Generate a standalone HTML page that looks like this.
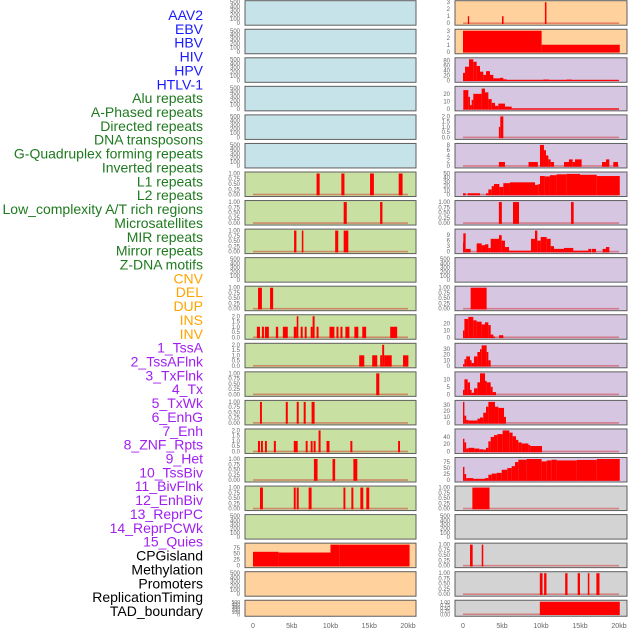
<!DOCTYPE html>
<html><head><meta charset="utf-8">
<style>
html,body{margin:0;padding:0;background:#fff;}
svg{display:block;font-family:"Liberation Sans",sans-serif;}
</style></head>
<body>
<svg id="chart" width="630" height="630" viewBox="0 0 630 630" xmlns="http://www.w3.org/2000/svg"></svg>
<script>
// ---- track labels ----
const trackLabels = ["AAV2","EBV","HBV","HIV","HPV","HTLV-1","Alu repeats","A-Phased repeats","Directed repeats","DNA transposons","G-Quadruplex forming repeats","Inverted repeats","L1 repeats","L2 repeats","Low_complexity A/T rich regions","Microsatellites","MIR repeats","Mirror repeats","Z-DNA motifs","CNV","DEL","DUP","INS","INV","1_TssA","2_TssAFlnk","3_TxFlnk","4_Tx","5_TxWk","6_EnhG","7_Enh","8_ZNF_Rpts","9_Het","10_TssBiv","11_BivFlnk","12_EnhBiv","13_ReprPC","14_ReprPCWk","15_Quies","CPGisland","Methylation","Promoters","ReplicationTiming","TAD_boundary"];
const labelGroups = [6,13,5,15,5];
const groupColors = ["#1a1aff","#1f7a1f","#ffa500","#a020f0","#000000"];
const xTicks = [0,5,10,15,20];
const xTickLabels = ["0","5kb","10kb","15kb","20kb"];

// ---- left column segments [startKb, endKb, value] ----
const L07 = [[8.2,8.6,1],[11.4,11.8,1],[15.1,15.6,1],[18.8,19.3,1]];
const L08 = [[11.7,12.1,1],[16.4,16.7,1]];
const L09 = [[5.3,5.6,1],[6.3,6.5,1],[10.6,11.0,1],[11.7,12.3,1]];
const L11 = [[0.65,1.15,1],[2.2,2.6,1]];
const L12 = [[0.5,0.9,1],[1.15,1.41,1],[1.54,2.05,1],[2.95,3.25,1],[3.85,4.49,1],[5.26,5.64,1],[5.64,5.85,2],[6.15,6.41,1],[6.67,6.92,1],[7.44,7.69,1],[7.69,7.95,2],[8.2,8.46,1],[9.87,10.5,1],[10.77,11.03,1],[11.28,11.54,1],[11.92,12.44,1],[13.08,13.59,1],[14.1,14.6,1],[17.7,18.6,1]];
const L13 = [[13.7,14.36,1],[15.38,16.03,1],[16.41,16.67,1],[16.67,16.92,2],[16.92,17.9,1],[19.36,20.05,1]];
const L14 = [[15.9,16.3,1]];
const L15 = [[0.9,1.15,1],[4.23,4.49,1],[5.64,5.9,1],[6.54,6.8,1],[7.56,7.95,1]];
const L16 = [[0.64,0.9,1],[1.03,1.28,1],[1.54,1.79,1],[2.69,2.95,1],[5.26,5.77,1],[6.8,7.05,1],[7.44,7.69,1],[7.82,8.08,1],[8.46,8.72,2],[9.49,9.87,1],[12.56,12.82,1],[18.72,18.97,1]];
const L17 = [[7.86,8.33,1],[10.26,10.6,1],[12.95,13.46,1]];
const L18 = [[0.9,1.28,1],[5.26,5.51,1],[5.64,5.9,1],[7.18,7.56,1],[11.67,11.92,1],[12.69,12.95,1],[13.85,14.23,1],[14.62,15.0,1]];
const L20 = [[0,3.3,58],[3.3,10,55],[10,11.2,92],[11.2,20.2,90]];

// ---- right column segments ----
const R01 = [[0.62,0.79,1],[5.0,5.2,1],[10.5,10.7,3]];
const R02 = [[0,10.08,3],[10.08,20.1,1]];
const R03 = [[0,0.26,30],[0.26,0.77,55],[0.77,1.32,85],[1.32,1.75,75],[1.75,2.18,58],[2.18,2.6,35],[2.6,2.95,22],[2.95,3.46,37],[3.46,3.89,22],[3.89,4.74,8],[4.74,5.17,10],[5.17,5.6,4],[5.6,10.3,1],[10.3,11.03,3],[11.03,13.29,1],[13.29,13.93,3],[13.93,20,1]];
const R04 = [[0.04,0.68,25],[0.68,0.9,16],[0.9,1.11,5],[1.11,1.32,12],[1.32,2.39,20],[2.39,2.82,27],[2.82,3.25,22],[3.25,3.68,13],[3.68,4.1,8],[4.1,4.53,4],[4.53,5.38,7],[5.38,6.24,3],[6.24,20,0.5]];
const R05 = [[4.6,4.78,1],[4.78,5.17,2]];
const R06 = [[4.6,5.38,1.5],[8.4,9.6,1.5],[9.87,10.38,8],[10.38,10.64,6],[10.64,10.94,4],[10.94,11.24,2.5],[11.24,11.67,1.5],[12.95,13.59,1.5],[13.59,14.06,2.5],[14.06,14.36,1.5],[14.36,15.21,2.5],[17.82,18.33,1.5],[18.33,18.76,2.5],[19.27,19.87,1.5]];
const R07 = [[0,0.34,3],[0.6,2.18,3],[2.95,3.25,3],[3.25,3.68,12],[3.68,3.97,20],[3.97,4.66,25],[4.66,5.17,18],[5.17,6.02,27],[6.02,9.23,29],[9.23,9.66,23],[9.66,9.87,25],[9.87,10.5,44],[10.5,11.15,43],[11.15,12.0,46],[12.0,13.29,48],[13.29,15.0,49],[15.0,17.14,47],[17.14,20.1,44]];
const R08 = [[4.6,4.98,1],[6.41,7.18,1],[13.85,14.19,1]];
const R09 = [[0,0.04,5],[0.04,0.34,10],[0.34,0.98,1.5],[1.75,2.39,4.5],[2.39,2.82,3.5],[2.82,3.25,4],[3.25,3.55,2],[3.55,4.62,7],[4.62,4.96,9],[4.96,5.38,6],[5.38,5.9,2.5],[5.9,8.72,0.5],[8.72,9.23,7],[9.23,9.53,11.5],[9.53,9.96,6],[9.96,10.73,8],[10.73,11.24,7],[11.24,11.67,3],[11.67,12.95,1.5],[12.95,14.14,2],[14.14,16.07,0.5],[16.07,16.41,1.5],[16.5,17.05,1.5],[17.9,18.33,1.5],[18.33,18.76,2.5]];
const R11 = [[0.98,3.03,1]];
const R12 = [[0,0.18,10],[0.18,0.68,27],[0.68,1.32,30],[1.32,1.75,25],[1.75,2.39,23],[2.39,2.82,19],[2.82,3.25,22],[3.25,3.55,18],[3.55,3.89,4],[3.89,4.1,1],[4.62,5.17,3]];
const R13 = [[0,0.18,3],[0.18,0.41,12],[0.41,0.9,17],[0.9,1.11,10],[1.11,1.41,5],[1.41,1.84,17],[1.84,2.18,25],[2.18,2.39,30],[2.39,3.03,37],[3.03,3.25,25],[3.25,3.55,10]];
const R14 = [[0,0.18,3],[0.18,0.6,10],[0.6,0.9,8],[0.9,1.11,3],[1.11,1.41,1],[1.41,1.84,4],[1.84,2.18,8],[2.18,2.82,14],[2.82,3.03,9],[3.03,3.55,8],[3.55,3.8,5],[3.8,4.23,1.5]];
const R15 = [[0,0.18,35],[0.18,0.41,12],[0.41,0.68,5],[0.68,1.84,4],[1.84,2.18,7],[2.18,2.6,9],[2.6,2.95,17],[2.95,3.25,27],[3.25,4.1,35],[4.1,4.53,27],[4.53,5.26,25],[5.26,5.51,10]];
const R16 = [[0,0.18,35],[0.18,0.41,25],[0.41,0.68,8],[0.68,1.45,10],[1.45,2.09,8],[2.09,2.6,6],[2.6,2.95,5],[2.95,3.25,10],[3.25,3.55,28],[3.55,3.97,40],[3.97,4.4,45],[4.4,5.08,48],[5.08,5.94,58],[5.94,6.36,52],[6.36,6.8,42],[6.8,7.09,32],[7.09,7.52,25],[7.52,8.38,22],[8.38,8.63,18],[8.63,10.13,15]];
const R17 = [[0,0.18,55],[0.18,0.41,25],[0.41,1.32,8],[1.32,2.82,5],[2.82,3.25,8],[3.25,3.68,22],[3.68,4.32,27],[4.32,4.96,30],[4.96,5.68,43],[5.68,6.24,50],[6.24,6.67,58],[6.67,7.09,75],[7.09,8.16,85],[8.16,10.08,90],[10.08,10.73,78],[10.73,11.37,82],[11.37,12.0,85],[12.0,14.57,82],[14.57,17.14,84],[17.14,20.1,92]];
const R18 = [[1.2,3.4,1]];
const R20 = [[0.9,1.24,1],[2.4,2.6,1]];
const R21 = [[9.85,10.2,1],[10.4,10.7,1],[13.1,13.4,1],[14.7,15.0,1],[16.0,16.2,1],[17.1,17.5,1]];
const R22 = [[9.85,20.1,1]];

// ---- y-axis tick values per panel type ----
const ticksEmpty = [0,100,200,300,400,500];
const ticksUnit = [0,0.25,0.5,0.75,1];
const ticksTwo = [0,0.5,1,1.5,2];
const ticksThree = [0,1,2,3];

const leftSeries = [null,null,null,null,null,null,L07,L08,L09,null,L11,L12,L13,L14,L15,L16,L17,L18,null,L20,null,null];
const rightSeries = [R01,R02,R03,R04,R05,R06,R07,R08,R09,null,R11,R12,R13,R14,R15,R16,R17,R18,null,R20,R21,R22];
const leftTicks = [ticksEmpty,ticksEmpty,ticksEmpty,ticksEmpty,ticksEmpty,ticksEmpty,ticksUnit,ticksUnit,ticksUnit,ticksEmpty,ticksUnit,ticksTwo,ticksTwo,ticksUnit,ticksUnit,ticksTwo,ticksUnit,ticksUnit,ticksEmpty,[0,25,50,75],ticksEmpty,ticksEmpty];
const rightTicks = [ticksThree,ticksThree,[0,20,40,60,80],[0,10,20],ticksTwo,[0,2,4,6,8],[0,10,20,30,40,50],ticksUnit,[0,3,6,9],ticksEmpty,ticksUnit,[0,10,20],[0,10,20,30],[0,5,10],[0,10,20,30],[0,20,40],[0,25,50,75],ticksUnit,ticksEmpty,ticksUnit,ticksUnit,ticksUnit];
const leftMax = [500,500,500,500,500,500,1,1,1,500,1,2,2,1,1,2,1,1,500,88,500,500];
const rightMax = [3,3,85,28,2,8,50,1,11.5,500,1,31,38,14,35,58,88,1,500,1,1,1];

const leftBg = i => i < 6 ? "#c7e3ea" : (i < 19 ? "#c8e1a3" : "#ffd19d");
const rightBg = i => i < 2 ? "#ffd19d" : (i < 17 ? "#d6c6e2" : "#d3d3d3");

const NS = "http://www.w3.org/2000/svg";
const svg = document.getElementById("chart");
function mk(tag, attrs, parent){
  const e = document.createElementNS(NS, tag);
  for (const k in attrs) e.setAttribute(k, attrs[k]);
  (parent||svg).appendChild(e);
  return e;
}

// labels
let li = 0;
labelGroups.forEach((n, g) => {
  for (let j = 0; j < n; j++, li++) {
    const t = mk("text", {x:203, y:15 + li*13.86 + 5, "text-anchor":"end", "font-size":"14", fill:groupColors[g]});
    t.textContent = trackLabels[li];
    
    
  }
});

const cols = [
  {x0:245, x1:416, k0:253, k20:408, tickX:240, series:leftSeries, ticks:leftTicks, max:leftMax, bg:leftBg, name:"left"},
  {x0:455, x1:627, k0:463, k20:619, tickX:450, series:rightSeries, ticks:rightTicks, max:rightMax, bg:rightBg, name:"right"}
];

function fmt(v, ticks){
  const mx = ticks[ticks.length-1];
  if (mx === 1) return v.toFixed(2);
  if (mx === 2) return v.toFixed(1);
  return String(v);
}

cols.forEach(c => {
  const xs = kb => c.k0 + (c.k20 - c.k0) * kb / 20;
  for (let i = 0; i < 22; i++) {
    const top = 0.7 + 28.55 * i;
    const h = i === 21 ? 16 : 24.5;
    const bottom = top + h;
    const g = mk("g", {});
    
    
    const r = mk("rect", {x:c.x0, y:top, width:c.x1-c.x0, height:h, fill:c.bg(i), stroke:"#5f5f5f", "stroke-width":"1"}, g);
    
    
    const ymax = c.max[i];
    const ys = v => bottom - 2 - Math.min(v, ymax) / ymax * (h - 3.5);
    c.ticks[i].forEach(tv => {
      const t = mk("text", {x:c.tickX, y:ys(tv)+2, "text-anchor":"end", "font-size": i===21 ? "5" : "6", fill:"#666"}, g);
      t.textContent = fmt(tv, c.ticks[i]);
      
      
    });
    const segs = c.series[i];
    if (segs) {
      const base = mk("rect", {x:xs(0), y:ys(0)-0.8, width:xs(20)-xs(0), height:1.6, fill:"#d02020", opacity:"0.45"}, g);
      
      
      segs.forEach(s => {
        const b = mk("rect", {x:xs(s[0]), y:ys(s[2]), width:Math.max(1, xs(s[1])-xs(s[0])), height:ys(0)-ys(s[2])+0.8, fill:"#ff0000"}, g);
        
        
      });
    }
  }
  xTicks.forEach((kb, j) => {
    const t = mk("text", {x:xs(kb), y:628, "text-anchor":"middle", "font-size":"7", fill:"#666"});
    t.textContent = xTickLabels[j];
    
    
  });
});
</script>
</body></html>
